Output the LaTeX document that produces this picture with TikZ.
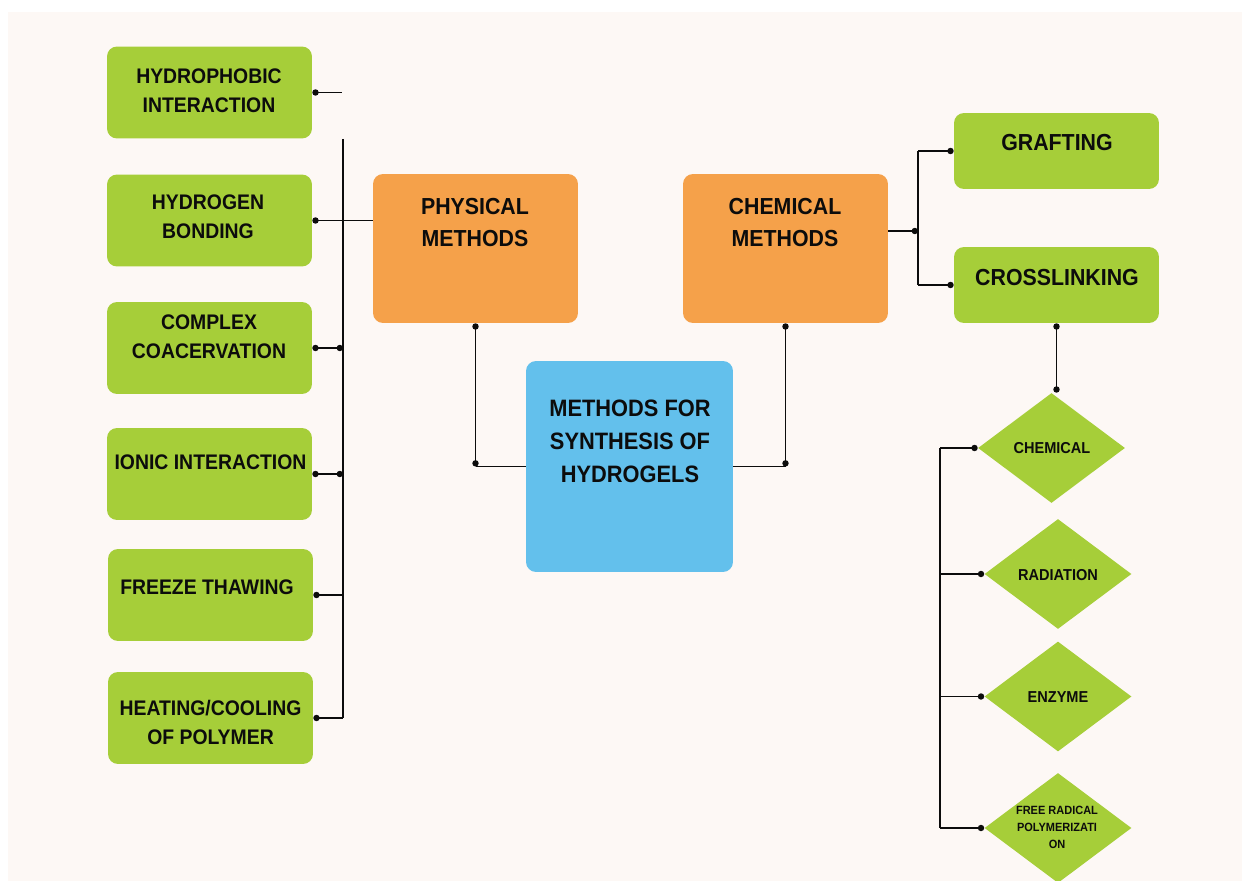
\documentclass[tikz,border=0pt]{standalone}
\usepackage{fontspec}
\setmainfont{Liberation Sans}[FakeStretch=0.92]
\usepackage{tikz}
\usetikzlibrary{arrows.meta,shapes.geometric}
\definecolor{paper}{RGB}{253,248,245}
\definecolor{leaf}{RGB}{166,206,57}
\definecolor{peach}{RGB}{245,161,74}
\definecolor{sky}{RGB}{99,192,236}
\definecolor{ink}{RGB}{12,12,12}

\begin{document}
\begin{tikzpicture}[x=0.02cm, y=-0.02cm,
  gbox/.style    = {rectangle, rounded corners=5.7pt, fill=leaf, inner sep=0pt,
                    minimum width=4.1cm, minimum height=1.84cm},
  obox/.style    = {gbox, fill=peach, minimum height=2.98cm},
  bbox/.style    = {gbox, fill=sky, minimum width=4.14cm, minimum height=4.22cm},
  rbox/.style    = {gbox, minimum height=1.52cm},
  gdiam/.style   = {diamond, fill=leaf, inner sep=0pt, aspect=1.33,
                    minimum width=2.94cm, minimum height=2.2cm},
  txt/.style     = {align=center, text=ink, inner sep=0pt,
                    font=\bfseries\fontsize{12}{16.5}\selectfont},
  bigtxt/.style  = {txt, font=\bfseries\fontsize{13.2}{18.5}\selectfont},
  smalltxt/.style= {txt, font=\bfseries\fontsize{9}{11}\selectfont},
  tinytxt/.style = {txt, font=\bfseries\fontsize{6.8}{9.7}\selectfont},
  conn/.style    = {draw=ink, line width=0.8pt},
  dotStart/.style= {{Circle[length=3.6pt]}-},
  dotEnd/.style  = {-{Circle[length=3.6pt]}},
  dotBoth/.style = {{Circle[length=3.6pt]}-{Circle[length=3.6pt]}},
  ]
  \useasboundingbox (0,0) rectangle (1242,881);
  \fill[white] (0,0) rectangle (1242,881);
  \fill[paper] (8,12) rectangle (1242,881);

  % physical side
  \node[gbox] (hydPhob)  at (209.5,92.5) {};
  \node[gbox] (hydBond)  at (209.5,220.5) {};
  \node[gbox] (coacerv)  at (209.5,348) {};
  \node[gbox] (ionic)    at (209.5,474) {};
  \node[gbox] (freeze)   at (210.5,595) {};
  \node[gbox] (heatCool) at (210.5,718) {};
  \node[txt] (hydPhobT)  at (209,90.5)  {HYDROPHOBIC\\INTERACTION};
  \node[txt] (hydBondT)  at (208,216.5) {HYDROGEN\\BONDING};
  \node[txt] (coacervT)  at (209,336.5) {COMPLEX\\COACERVATION};
  \node[txt] (ionicT)    at (210.5,462) {IONIC INTERACTION};
  \node[txt] (freezeT)   at (207,587)   {FREEZE THAWING};
  \node[txt] (heatCoolT) at (210.5,722.5) {HEATING/COOLING\\OF POLYMER};

  % main methods
  \node[obox] (phys)  at (475.5,248.5) {};
  \node[obox] (chem)  at (785.5,248.5) {};
  \node[bbox] (synth) at (629.5,466.5) {};
  \node[bigtxt] (physT)  at (475,222.5) {PHYSICAL\\METHODS};
  \node[bigtxt] (chemT)  at (785,222.5) {CHEMICAL\\METHODS};
  \node[bigtxt, font=\bfseries\fontsize{13.5}{18.8}\selectfont] (synthT) at (630,441)
    {METHODS FOR\\SYNTHESIS OF\\HYDROGELS};

  % chemical side
  \node[rbox] (graft) at (1056.5,151) {};
  \node[rbox] (xlink) at (1056.5,285) {};
  \node[bigtxt] (graftT) at (1057,143) {GRAFTING};
  \node[bigtxt] (xlinkT) at (1057,278) {CROSSLINKING};
  \node[gdiam] (dChem) at (1051.5,448) {};
  \node[gdiam] (dRad)  at (1058,574) {};
  \node[gdiam] (dEnz)  at (1058,696.5) {};
  \node[gdiam] (dFree) at (1058,828) {};
  \node[smalltxt] (dChemT) at (1052,448) {CHEMICAL};
  \node[smalltxt] (dRadT)  at (1058,575) {RADIATION};
  \node[smalltxt] (dEnzT)  at (1058,697) {ENZYME};
  \node[tinytxt]  (dFreeT) at (1057,827) {FREE RADICAL\\POLYMERIZATI\\ON};

  % left connectors
  \coordinate (stubEnd) at (342,92.5);
  \coordinate (busTop) at (343,139);
  \draw[conn, dotStart] (hydPhob.east) -- (hydPhob.east -| stubEnd);
  \draw[conn] (busTop) -- (busTop |- heatCool.east);
  \draw[conn, dotStart] (hydBond.east) -- (hydBond.east -| phys.west);
  \draw[conn, dotBoth] (coacerv.east) -- (coacerv.east -| busTop);
  \draw[conn, dotBoth] (ionic.east) -- (ionic.east -| busTop);
  \draw[conn, dotStart] (freeze.east) -- (freeze.east -| busTop);
  \draw[conn, dotStart] (heatCool.east) -- (heatCool.east -| busTop);

  % centre connectors
  \draw[conn, dotBoth] (phys.south) -- (phys.south |- synth.west);
  \draw[conn] (phys.south |- synth.west) -- (synth.west);
  \draw[conn, dotBoth] (chem.south) -- (chem.south |- synth.east);
  \draw[conn] (synth.east) -- (chem.south |- synth.east);

  % right connectors
  \coordinate (chemJ) at (918,231);
  \draw[conn, dotEnd] (chemJ -| chem.east) -- (chemJ);
  \draw[conn] (chemJ |- graft.west) -- (chemJ |- xlink.west);
  \draw[conn, dotEnd] (chemJ |- graft.west) -- (graft.west);
  \draw[conn, dotEnd] (chemJ |- xlink.west) -- (xlink.west);
  \draw[conn, dotBoth] (xlink.south) -- (xlink.south |- dChem.north);

  \coordinate (dBusTop) at (940,448);
  \draw[conn] (dBusTop) -- (dBusTop |- dFree.west);
  \draw[conn, dotEnd] (dBusTop) -- (dChem.west);
  \draw[conn, dotEnd] (dBusTop |- dRad.west) -- (dRad.west);
  \draw[conn, dotEnd] (dBusTop |- dEnz.west) -- (dEnz.west);
  \draw[conn, dotEnd] (dBusTop |- dFree.west) -- (dFree.west);
\end{tikzpicture}
\end{document}
